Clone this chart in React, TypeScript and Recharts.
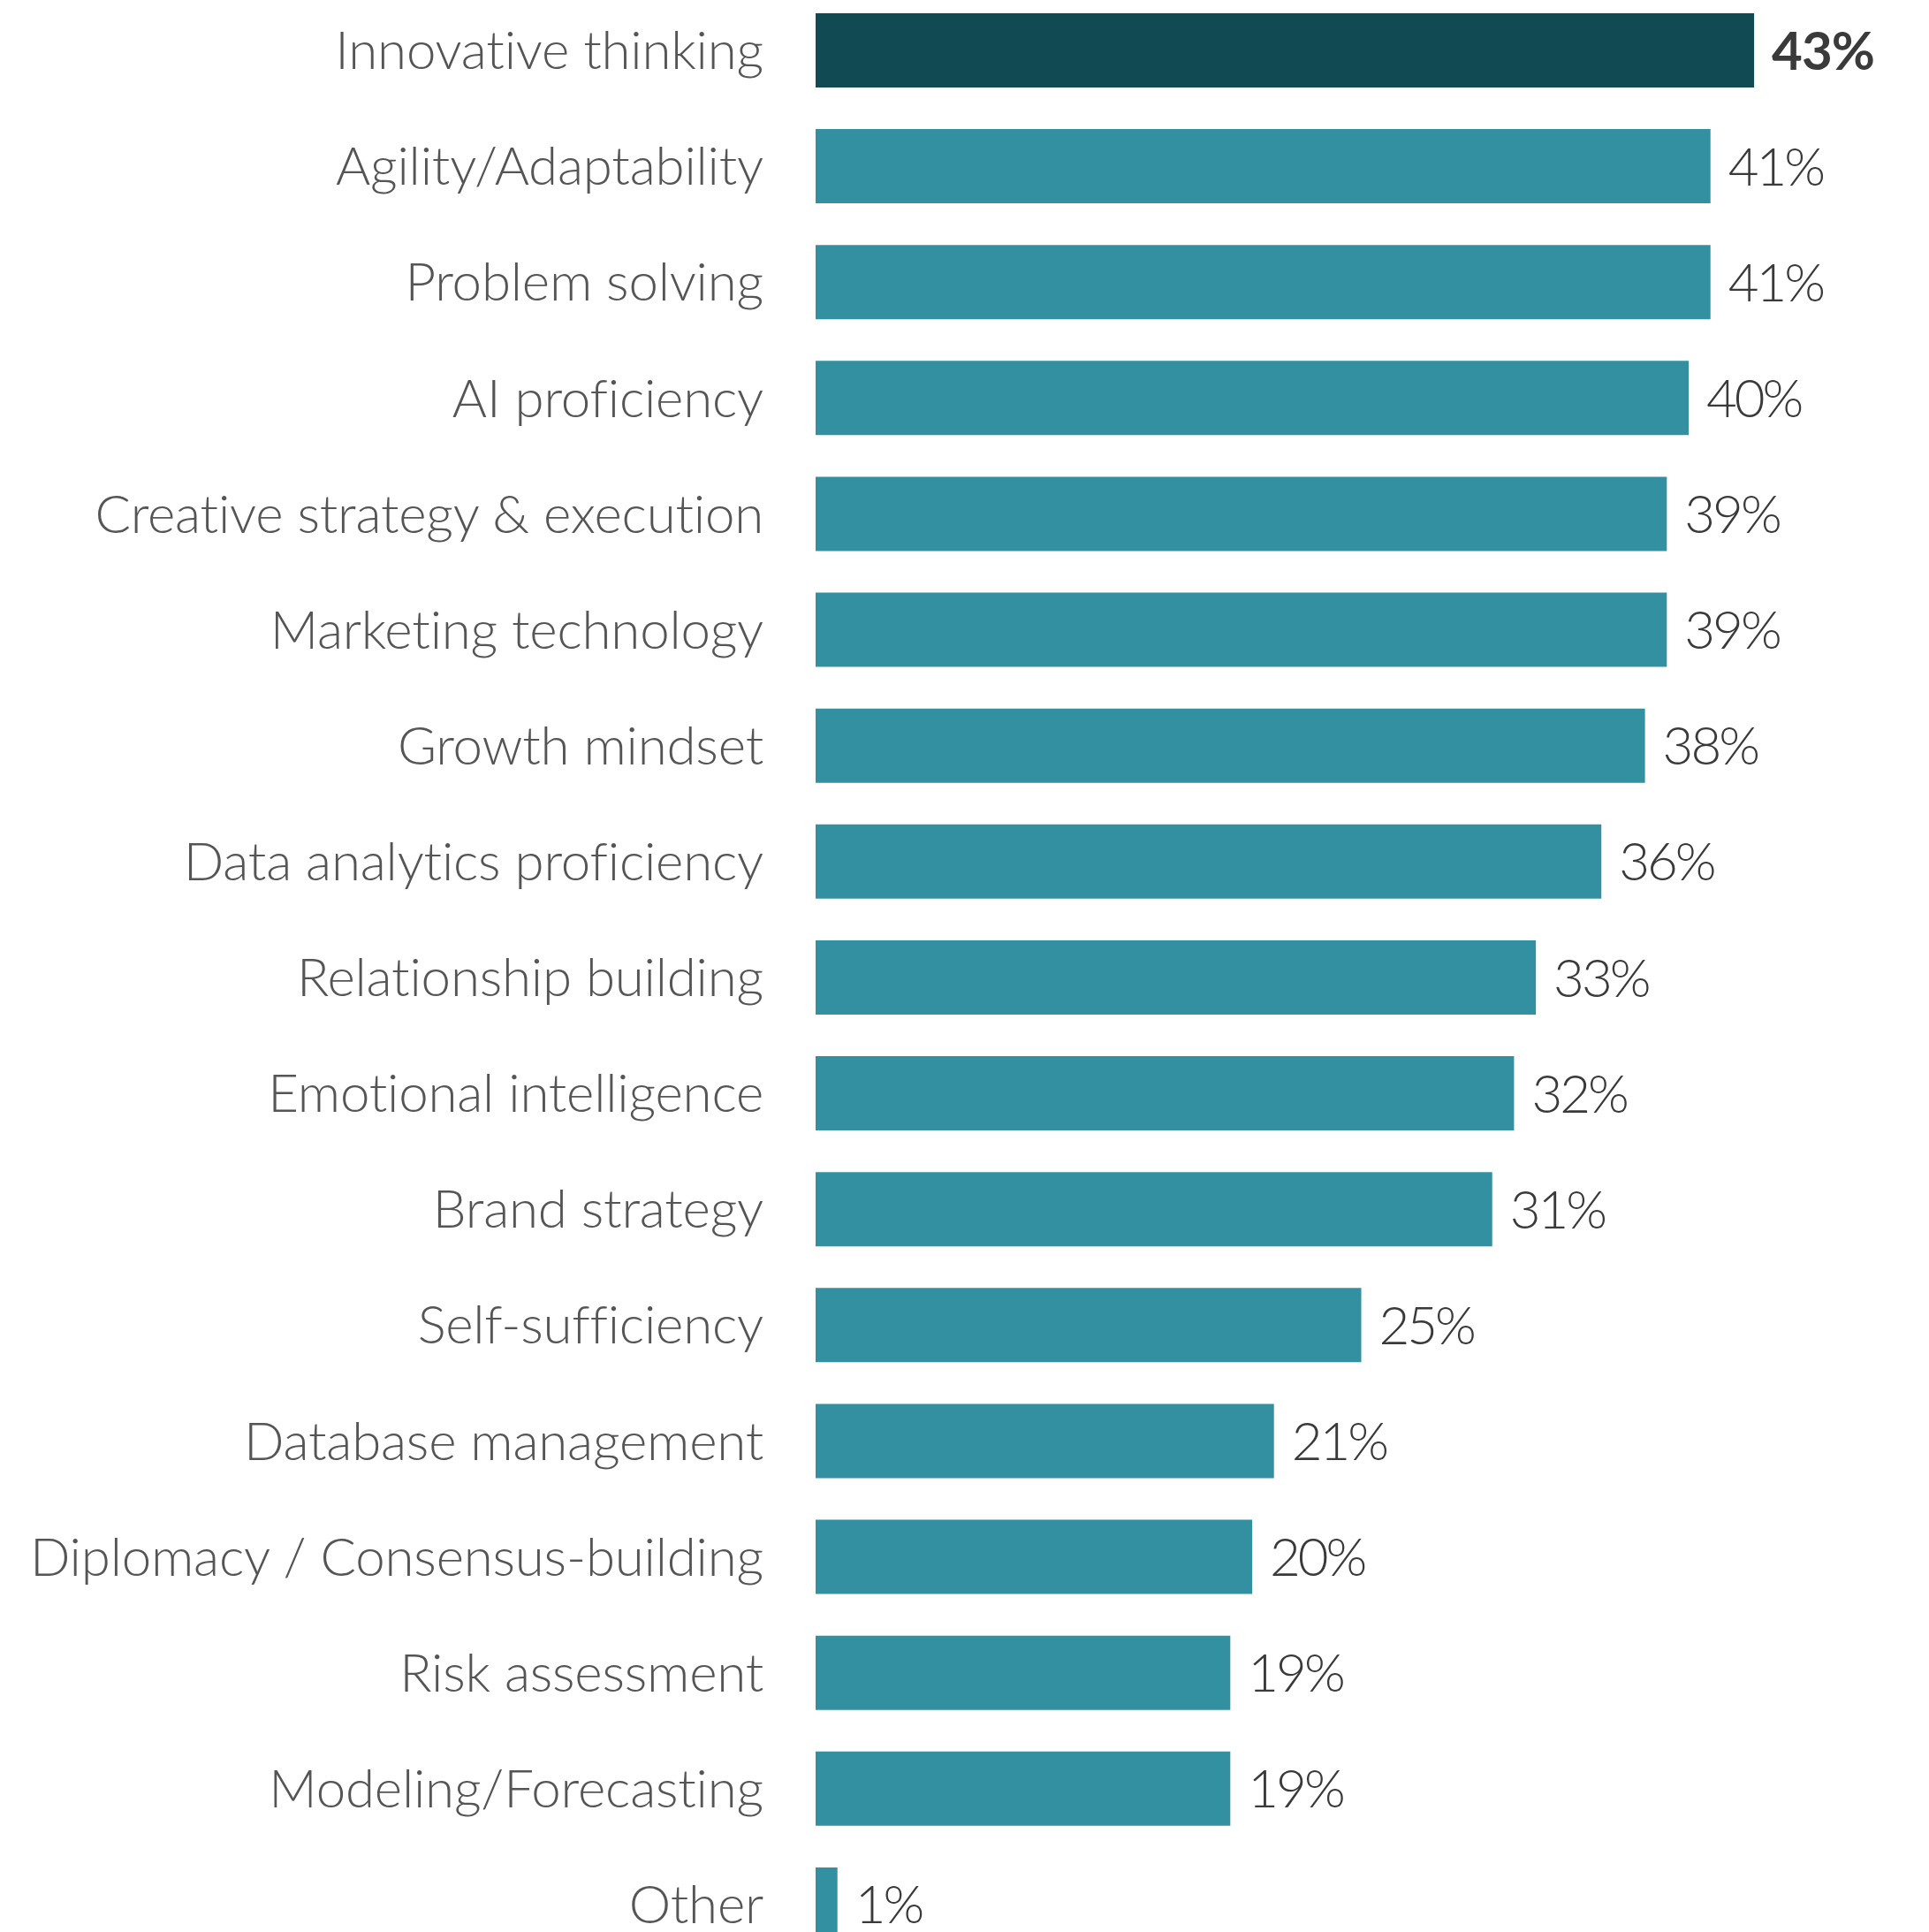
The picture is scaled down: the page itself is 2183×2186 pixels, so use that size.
import React from 'react';
import { BarChart, Bar, XAxis, YAxis, Cell, LabelList } from 'recharts';

const CATEGORIES = [
    'Innovative thinking',
    'Agility/Adaptability',
    'Problem solving',
    'AI proficiency',
    'Creative strategy & execution',
    'Marketing technology',
    'Growth mindset',
    'Data analytics proficiency',
    'Relationship building',
    'Emotional intelligence',
    'Brand strategy',
    'Self-sufficiency',
    'Database management',
    'Diplomacy / Consensus-building',
    'Risk assessment',
    'Modeling/Forecasting',
    'Other',
];
const VALUES = [43, 41, 41, 40, 39, 39, 38, 36, 33, 32, 31, 25, 21, 20, 19, 19, 1];

const data = CATEGORIES.map((name, i) => ({ name, value: VALUES[i] }));

const FONT = 'Lato, sans-serif';
const FONT_SIZE = 60;

const CategoryTick = (props: any) => {
    const { x, y, payload } = props;
    return (
        <text x={x} y={y} dy={FONT_SIZE * 0.36} textAnchor="end" fill="#555555"
            fontFamily={FONT} fontWeight={300} fontSize={FONT_SIZE} letterSpacing={-0.2}>
            {payload.value}
        </text>
    );
};

const ValueLabel = (props: any) => {
    const { x, y, width, height, value, index } = props;
    const bold = index === 0;
    return (
        <text x={x + width + 20} y={y + height / 2} dy={FONT_SIZE * 0.36} fill="#3a3a3a"
            fontFamily={FONT} fontWeight={bold ? 700 : 300} fontSize={FONT_SIZE}
            letterSpacing={bold ? -1 : -3}>
            {value}%
        </text>
    );
};

export default function App() {
    return (
        <div style={{ width: 2183, height: 2186, overflow: 'hidden', background: '#fff' }}>
            <style>{`body { margin: 0; }`}</style>
            <div style={{ marginTop: -9 }}>
                <BarChart
                    layout="vertical"
                    width={2183}
                    height={2229}
                    data={data}
                    margin={{ top: 0, right: 25, bottom: 0, left: 0 }}
                >
                    <XAxis type="number" domain={[0, 50]} hide />
                    <YAxis type="category" dataKey="name" width={923} axisLine={false} tickLine={false}
                        tickSize={0} tickMargin={59} tick={<CategoryTick />} interval={0} />
                    <Bar dataKey="value" barSize={84} isAnimationActive={false}>
                        {data.map((entry, index) => (
                            <Cell key={`cell-${index}`} fill={index === 0 ? '#124a54' : '#3390a0'} />
                        ))}
                        <LabelList dataKey="value" content={<ValueLabel />} />
                    </Bar>
                </BarChart>
            </div>
        </div>
    );
}
